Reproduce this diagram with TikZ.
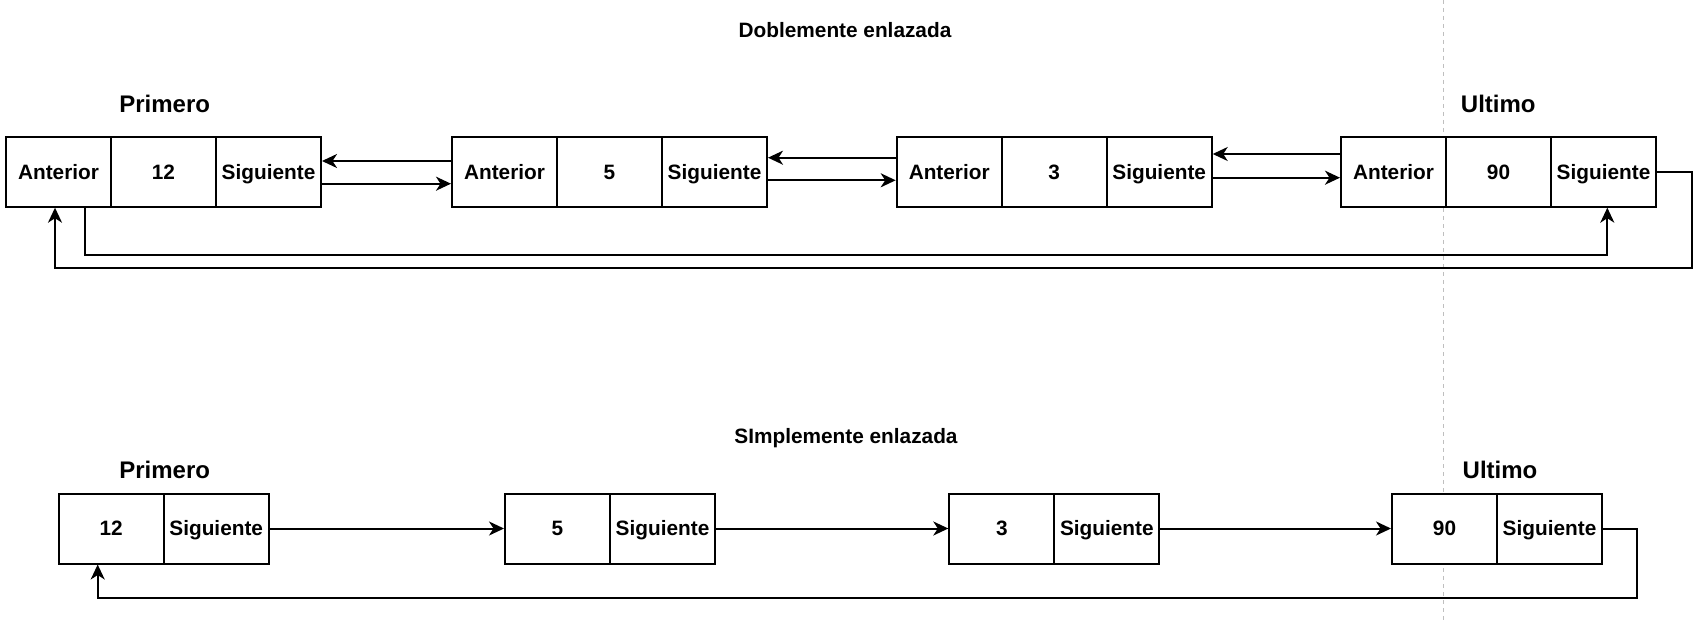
\documentclass[tikz,border=0pt]{standalone}
\usepackage{fontspec}
\setmainfont{Liberation Sans}
\usetikzlibrary{arrows.meta}
\newcommand{\mycellfont}{\bfseries\fontsize{20.8}{25}\selectfont}
\newcommand{\mybigfont}{\bfseries\fontsize{24}{28}\selectfont}
\begin{document}
\begin{tikzpicture}[x=1pt,y=-1pt,
  cell/.style={draw, fill=white, line width=2pt, minimum width=105pt, minimum height=70pt,
    inner sep=0pt, font=\mycellfont, text height=14.9pt, text depth=0pt},
  lbl/.style={inner sep=0pt, font=\mybigfont, text height=17.2pt, text depth=0pt},
  ttl/.style={inner sep=0pt, font=\mycellfont, text height=14.9pt, text depth=0pt},
  arr/.style={line width=2pt, -{Stealth[length=15pt,width=14pt,inset=4.5pt]}},
  guide/.style={line width=1pt, draw=black!25, dash pattern=on 4pt off 4pt}]
\useasboundingbox (0,0) rectangle (1707,623);
\draw[guide] (1443.7,0) -- (1443.7,623);

% titles
\node[ttl] (t1) at (845,30) {Doblemente enlazada};
\node[ttl] (t2) at (846,436) {SImplemente enlazada};
\node[lbl] (p1) at (164.7,104) {Primero};
\node[lbl] (u1) at (1498.3,104) {Ultimo};
\node[lbl] (p2) at (164.7,470) {Primero};
\node[lbl] (u2) at (1500,470) {Ultimo};

% top row
\node[cell] (n1a) at (58.5,171.7) {Anterior};
\node[cell] (n1v) at (163.5,171.7) {12};
\node[cell] (n1s) at (268.5,171.7) {Siguiente};
\node[cell] (n2a) at (504.5,171.7) {Anterior};
\node[cell] (n2v) at (609.5,171.7) {5};
\node[cell] (n2s) at (714.5,171.7) {Siguiente};
\node[cell] (n3a) at (949.2,171.7) {Anterior};
\node[cell] (n3v) at (1054.2,171.7) {3};
\node[cell] (n3s) at (1159.2,171.7) {Siguiente};
\node[cell] (n4a) at (1393.5,171.7) {Anterior};
\node[cell] (n4v) at (1498.5,171.7) {90};
\node[cell] (n4s) at (1603.5,171.7) {Siguiente};

\draw[arr] ([yshift=10.7pt]n2a.west) -- ([yshift=10.7pt]n1s.east);
\draw[arr] ([yshift=-12pt]n1s.east) -- ([yshift=-12pt]n2a.west);
\draw[arr] ([yshift=14pt]n3a.west) -- ([yshift=14pt]n2s.east);
\draw[arr] ([yshift=-8.6pt]n2s.east) -- ([yshift=-8.6pt]n3a.west);
\draw[arr] ([yshift=17.7pt]n4a.west) -- ([yshift=17.7pt]n3s.east);
\draw[arr] ([yshift=-6pt]n3s.east) -- ([yshift=-6pt]n4a.west);

\draw[arr] ([xshift=26.5pt]n1a.south) -- ++(0,47.3) -| ([xshift=3.8pt]n4s.south);
\draw[arr] (n4s.east) -| (1691.7,267.7) -| ([xshift=-3.5pt]n1a.south);

% bottom row
\node[cell] (b1v) at (111.2,528.5) {12};
\node[cell] (b1s) at (216.2,528.5) {Siguiente};
\node[cell] (b2v) at (557.5,528.5) {5};
\node[cell] (b2s) at (662.5,528.5) {Siguiente};
\node[cell] (b3v) at (1001.8,528.5) {3};
\node[cell] (b3s) at (1106.8,528.5) {Siguiente};
\node[cell] (b4v) at (1444.5,528.5) {90};
\node[cell] (b4s) at (1549.5,528.5) {Siguiente};

\draw[arr] (b1s.east) -- (b2v.west);
\draw[arr] (b2s.east) -- (b3v.west);
\draw[arr] (b3s.east) -- (b4v.west);
\draw[arr] (b4s.east) -| (1637,598.3) -| ([xshift=-13.5pt]b1v.south);
\end{tikzpicture}
\end{document}
